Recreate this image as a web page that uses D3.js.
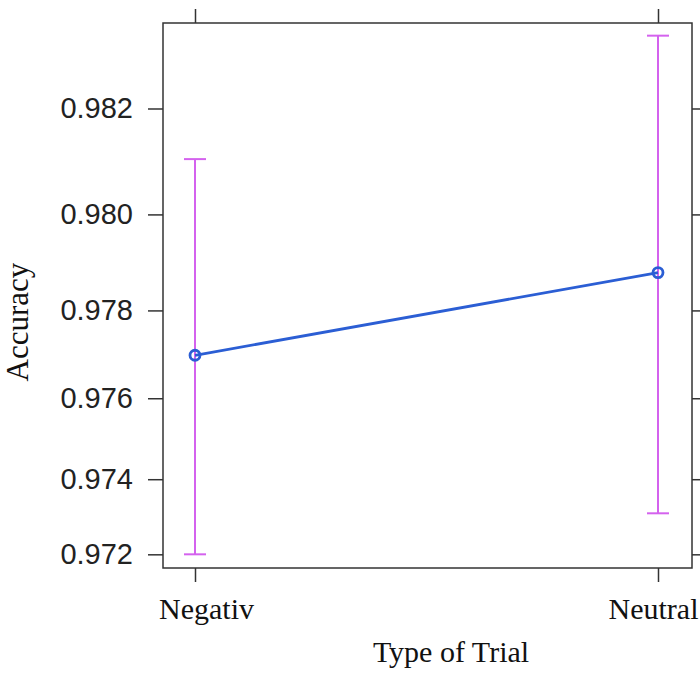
<!DOCTYPE html>
<html>
<head>
<meta charset="utf-8">
<script src="https://cdn.jsdelivr.net/npm/d3@7"></script>
<style>
  html, body { margin: 0; padding: 0; background: #fff; }
  svg { display: block; }
</style>
</head>
<body>
<svg id="chart" width="700" height="687"></svg>
<script>
// ---- data ----
const categories = ["Negativ", "Neutral"];
const fitValues  = [0.97700, 0.97881];
const lowerCI    = [0.97200, 0.97311];
const upperCI    = [0.98107, 0.98326];
const yTicks     = [0.972, 0.974, 0.976, 0.978, 0.980, 0.982];
const yDomain    = [0.97162, 0.98347];
const xTitle = "Type of Trial";
const yTitle = "Accuracy";

// ---- layout ----
const W = 700, H = 687;
const m = { left: 163, right: 8, top: 23, bottom: 119 };
const pw = W - m.left - m.right, ph = H - m.top - m.bottom;

const logit = p => Math.log(p / (1 - p));

const svg = d3.select("#chart");
const g = svg.append("g").attr("transform", `translate(${m.left},${m.top})`);

// x: point scale for categories
const x = d3.scalePoint().domain(categories).range([32, 495]);
// y: logit scale
const yLin = d3.scaleLinear().domain(yDomain.map(logit)).range([ph, 0]);
const y = v => yLin(logit(v));

const axisColor = "#333";
const tickLen = 14;

// Frame
g.append("rect").attr("x", 0).attr("y", 0).attr("width", pw).attr("height", ph)
  .attr("fill", "none").attr("stroke", axisColor).attr("stroke-width", 1.5);

// Left axis
const leftAxis = d3.axisLeft(yLin)
  .tickValues(yTicks.map(logit))
  .tickFormat((d, i) => d3.format(".3f")(yTicks[i]))
  .tickSize(tickLen + 1).tickPadding(15);
const la = g.append("g").call(leftAxis);
la.select(".domain").remove();
la.selectAll("line").attr("stroke", axisColor).attr("stroke-width", 1.5);
la.selectAll("text").attr("font-family", "'Liberation Sans', Arial, sans-serif")
  .attr("font-size", 29).attr("fill", "#222");

// Right axis (ticks only)
const rightAxis = d3.axisRight(yLin).tickValues(yTicks.map(logit)).tickFormat("").tickSize(tickLen);
const ra = g.append("g").attr("transform", `translate(${pw},0)`).call(rightAxis);
ra.select(".domain").remove();
ra.selectAll("line").attr("stroke", axisColor).attr("stroke-width", 1.5);

// Top axis (ticks only)
const topAxis = d3.axisTop(x).tickFormat("").tickSize(tickLen);
const ta = g.append("g").call(topAxis);
ta.select(".domain").remove();
ta.selectAll("line").attr("stroke", axisColor).attr("stroke-width", 1.5);

// Bottom axis
const bottomAxis = d3.axisBottom(x).tickSize(tickLen).tickPadding(16);
const ba = g.append("g").attr("transform", `translate(0,${ph})`).call(bottomAxis);
ba.select(".domain").remove();
ba.selectAll("line").attr("stroke", axisColor).attr("stroke-width", 1.5);
ba.selectAll("text").attr("font-family", "'Liberation Serif', 'Times New Roman', serif")
  .attr("font-size", 30).attr("fill", "#111")
  .attr("text-anchor", (d, i) => i === categories.length - 1 ? "end" : "middle")
  .attr("dx", (d, i) => i === categories.length - 1 ? (pw + m.right - 2 - x(d)) : 11);

// Error bars
const ciColor = "#d462ee";
const capW = 11;
const eb = g.append("g");
categories.forEach((c, i) => {
  const cx = x(c);
  eb.append("line").attr("x1", cx).attr("x2", cx).attr("y1", y(lowerCI[i])).attr("y2", y(upperCI[i]))
    .attr("stroke", ciColor).attr("stroke-width", 2);
  [lowerCI[i], upperCI[i]].forEach(v => {
    eb.append("line").attr("x1", cx - capW).attr("x2", cx + capW).attr("y1", y(v)).attr("y2", y(v))
      .attr("stroke", ciColor).attr("stroke-width", 2);
  });
});

// Line
const lineColor = "#2b5ed4";
const pts = categories.map((c, i) => [x(c), y(fitValues[i])]);
g.append("path").attr("d", d3.line()(pts)).attr("fill", "none")
  .attr("stroke", lineColor).attr("stroke-width", 2.8);

// Points
g.selectAll("circle.pt").data(pts).enter().append("circle")
  .attr("class", "pt").attr("cx", d => d[0]).attr("cy", d => d[1]).attr("r", 5)
  .attr("fill", "none").attr("stroke", lineColor).attr("stroke-width", 2.8);

// Titles
svg.append("text").attr("x", 451).attr("y", 662).attr("text-anchor", "middle")
  .attr("font-family", "'Liberation Serif', 'Times New Roman', serif")
  .attr("font-size", 30).attr("fill", "#111").text(xTitle);

svg.append("text").attr("transform", "translate(28,322) rotate(-90)").attr("text-anchor", "middle")
  .attr("font-family", "'Liberation Serif', 'Times New Roman', serif")
  .attr("font-size", 31).attr("fill", "#111").text(yTitle);
</script>
</body>
</html>
